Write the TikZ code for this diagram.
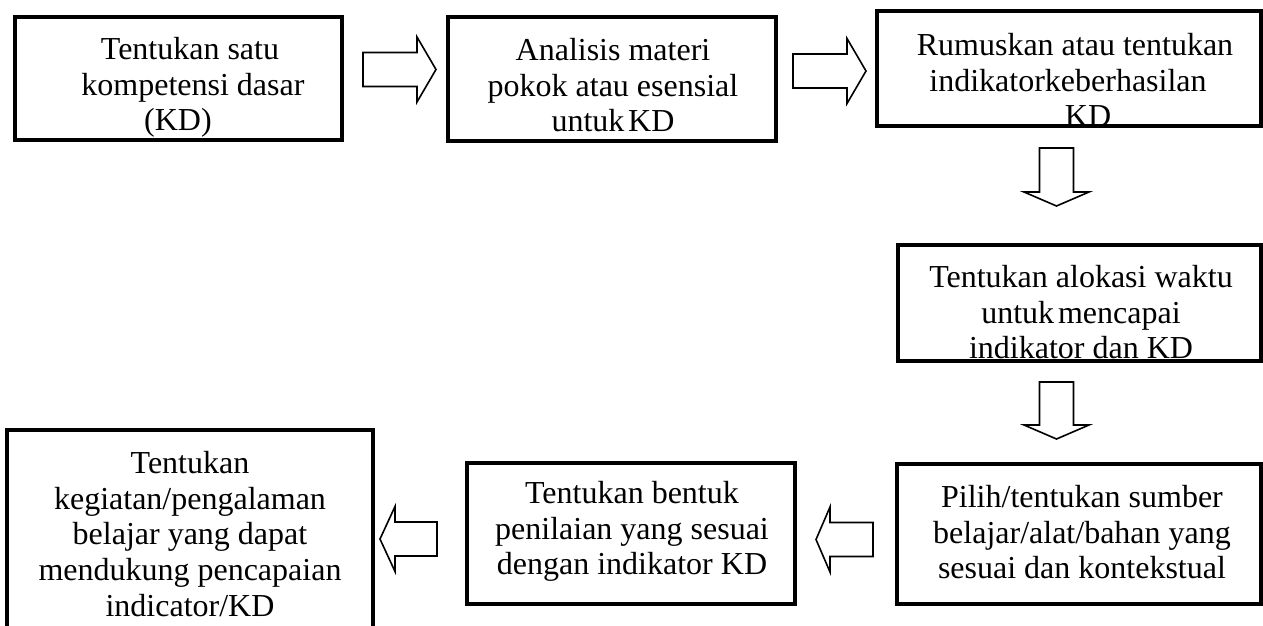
\documentclass[tikz,border=0pt]{standalone}
\usepackage{fontspec}
\setmainfont{Liberation Serif}
\usetikzlibrary{calc}
\tikzset{
  hl/.store in=\bahl, hl=15pt,
  box/.style={draw, line width=3.5pt, inner sep=0pt, rectangle},
  txt/.style={anchor=north, align=center, inner sep=0pt, font=\fontsize{32}{35.7}\selectfont},
  blockarrow/.style={draw, line width=1.6pt, line join=miter, to path={
    ($(\tikztostart)!17pt!90:(\tikztotarget)$)
    -- ($(\tikztotarget)!\bahl!(\tikztostart)!17pt!90:(\tikztotarget)$)
    -- ($(\tikztotarget)!\bahl!(\tikztostart)!32.5pt!90:(\tikztotarget)$)
    -- (\tikztotarget)
    -- ($(\tikztotarget)!\bahl!(\tikztostart)!32.5pt!-90:(\tikztotarget)$)
    -- ($(\tikztotarget)!\bahl!(\tikztostart)!17pt!-90:(\tikztotarget)$)
    -- ($(\tikztostart)!17pt!-90:(\tikztotarget)$)
    -- cycle}}
}
\begin{document}
\begin{tikzpicture}[x=1pt,y=-1pt]
\useasboundingbox (0,0) rectangle (1263,626);
\clip (0,0) rectangle (1263,626);
\fill[white] (0,0) rectangle (1263,626);

% texts
\node[txt] (t1) at (178,37) {\hspace*{24pt}Tentukan satu\\\hspace*{30pt}kompetensi dasar\\(KD)};
\node[txt] (t2) at (613,38) {Analisis materi\\pokok atau esensial\\untuk\hspace{0.12em}KD};
\node[txt] (t3) at (1068,33) {\hspace*{14pt}Rumuskan atau tentukan\\indikatorkeberhasilan\\\hspace*{40pt}KD};
\node[txt] (t4) at (1081,265) {Tentukan alokasi waktu\\untuk\hspace{0.12em}mencapai\\indikator dan KD};
\node[txt] (t5) at (1082,485) {Pilih/tentukan sumber\\belajar/alat/bahan yang\\sesuai dan kontekstual};
\node[txt] (t6) at (632,481) {Tentukan bentuk\\penilaian yang sesuai\\dengan indikator KD};
\node[txt] (t7) at (190,451) {Tentukan\\kegiatan/pengalaman\\belajar yang dapat\\mendukung pencapaian\\indicator/KD};

% boxes
\node[box, minimum width=327pt, minimum height=123pt] (b1) at (178.5,78.5) {};
\node[box, minimum width=328pt, minimum height=124pt] (b2) at (612,79) {};
\node[box, minimum width=384pt, minimum height=115pt] (b3) at (1069,68.5) {};
\node[box, minimum width=363pt, minimum height=116pt] (b4) at (1079.5,303) {};
\node[box, minimum width=364pt, minimum height=140pt] (b5) at (1079,534) {};
\node[box, minimum width=328pt, minimum height=141pt] (b6) at (631,533.5) {};
\node[box, minimum width=366pt, minimum height=220pt] (b7) at (190,540) {};

% block arrows
\coordinate (a1s) at (363,69.5); \coordinate (a1e) at (436,69.5);
\coordinate (a2s) at (793,71);   \coordinate (a2e) at (866,71);
\coordinate (a3s) at (1056.5,148); \coordinate (a3e) at (1056.5,206);
\coordinate (a4s) at (1056.5,382); \coordinate (a4e) at (1056.5,439);
\coordinate (a5s) at (873,539.5); \coordinate (a5e) at (816,539.5);
\coordinate (a6s) at (437,539);   \coordinate (a6e) at (380,539);

\draw[blockarrow, hl=19pt] (a1s) to (a1e);
\draw[blockarrow, hl=19pt] (a2s) to (a2e);
\draw[blockarrow, hl=14pt] (a3s) to (a3e);
\draw[blockarrow, hl=14pt] (a4s) to (a4e);
\draw[blockarrow, hl=14pt] (a5s) to (a5e);
\draw[blockarrow, hl=15pt] (a6s) to (a6e);
\end{tikzpicture}
\end{document}
